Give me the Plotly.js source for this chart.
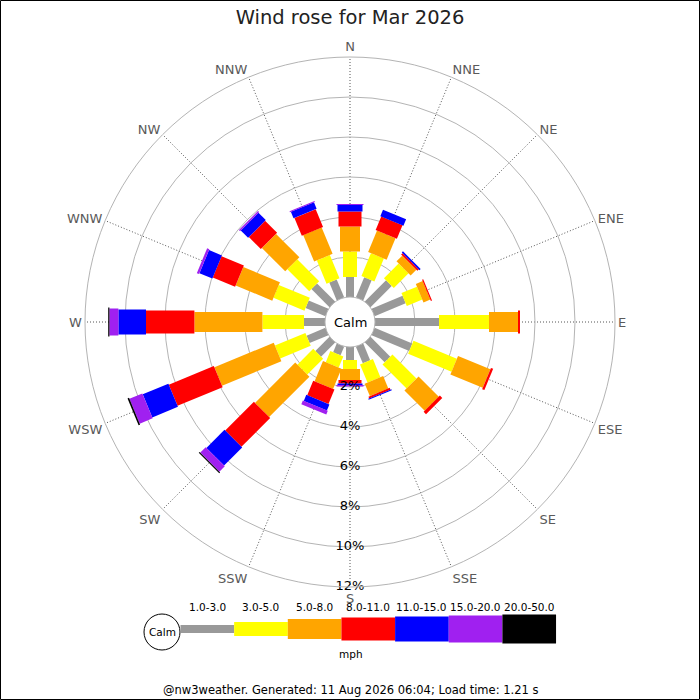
<!DOCTYPE html>
<html><head><meta charset="utf-8">
<script src="https://cdn.plot.ly/plotly-3.0.1.min.js"></script>
<style>html,body{margin:0;padding:0;background:#fff}#chart{width:700px;height:700px}</style>
</head><body><div id="chart"></div>
<script>
// ---- data ----
const dirs = ['N','NNE','NE','ENE','E','ESE','SE','SSE','S','SSW','SW','WSW','W','WNW','NW','NNW'];
const angles = [0,22.5,45,67.5,90,112.5,135,157.5,180,202.5,225,247.5,270,292.5,315,337.5];
const binLabels = ['1.0-3.0','3.0-5.0','5.0-8.0','8.0-11.0','11.0-15.0','15.0-20.0','20.0-50.0'];
// percent of time, per direction (same order as dirs)
const s1_3   = [1.00,1.09,1.50,1.68,3.20,2.04,1.40,0.90,0.65,0.47,1.00,1.02,1.05,1.07,1.28,0.97];
const s3_5   = [1.27,1.24,1.04,0.84,2.50,2.35,1.70,0.98,0.45,0.60,1.12,1.65,2.08,1.68,1.55,1.26];
const s5_8   = [1.25,1.16,0.40,0.37,1.45,1.75,1.43,0.67,0.55,1.10,2.85,3.21,3.40,1.98,1.65,1.43];
const s8_11  = [0.75,0.73,0.10,0.06,0.10,0.12,0.17,0.10,0.17,0.78,2.03,2.44,2.42,1.21,0.85,0.96];
const s11_15 = [0.33,0.35,0.08,0.00,0.00,0.00,0.00,0.05,0.08,0.33,1.28,1.39,1.38,0.70,0.52,0.35];
const s15_20 = [0.05,0.00,0.00,0.00,0.00,0.00,0.00,0.00,0.08,0.20,0.38,0.70,0.45,0.12,0.08,0.05];
const s20_50 = [0.00,0.00,0.00,0.00,0.00,0.00,0.00,0.00,0.00,0.00,0.06,0.08,0.06,0.00,0.00,0.00];
const radialTicks = [2,4,6,8,10,12];
const radialTickText = ['2%','4%','6%','8%','10%','12%'];
const title = 'Wind rose for Mar 2026';
const footer = '@nw3weather. Generated: 11 Aug 2026 06:04; Load time: 1.21 s';
const unitLabel = 'mph';
const calmLabel = 'Calm';

// ---- styles ----
const series = [s1_3,s3_5,s5_8,s8_11,s11_15,s15_20,s20_50];
const colors = ['#999999','#ffff00','#ffa500','#ff0000','#0000ff','#a020f0','#000000'];
const widths = [8,14,20,23,25,27,29];
const FONT = 'DejaVu Sans';

const traces = [];
const cum = dirs.map(()=>0);
series.forEach((vals,k)=>{
  const r=[], th=[];
  vals.forEach((v,i)=>{
    if(v>0){ r.push(cum[i], cum[i]+v, null); th.push(angles[i], angles[i], null); }
    cum[i]+=v;
  });
  traces.push({type:'scatterpolar', mode:'lines', r:r, theta:th, connectgaps:false,
    line:{color:colors[k], width:widths[k]}, hoverinfo:'skip', name:binLabels[k]});
});
traces.push({type:'scatterpolar', mode:'text', r:radialTicks, theta:radialTicks.map(()=>180),
  text:radialTickText, textposition:'middle center', cliponaxis:false,
  textfont:{family:FONT,size:13,color:'#000'}, hoverinfo:'skip'});

// pixel -> paper helpers
const L=85, T=57, PW=530, PH=530;
const px = x => (x-L)/PW;
const py = y => (T+PH-y)/PH;

const shapes = [];
const annotations = [];
function note(x,y,text,size){
  annotations.push({xref:'paper', yref:'paper', x:x, y:y, xanchor:'center', yanchor:'middle',
    text:text, showarrow:false, font:{family:FONT,size:size,color:'#000'}});
}
// frame
shapes.push({type:'rect', xref:'paper', yref:'paper', x0:px(0.5), x1:px(699.5), y0:py(699.5), y1:py(0.5), line:{color:'#000',width:1}});
// legend
const lx0 = 180.5, seg = 53.65, lyc = 629;
shapes.push({type:'circle', xref:'paper', yref:'paper', x0:px(144), x1:px(180), y0:py(650), y1:py(614), line:{color:'#000',width:1}, fillcolor:'#fff'});
note(px(162), py(632), calmLabel, 10.5);
colors.forEach((c,k)=>{
  const x0 = lx0 + k*seg;
  shapes.push({type:'rect', xref:'paper', yref:'paper', x0:px(x0), x1:px(x0+seg), y0:py(lyc+widths[k]/2), y1:py(lyc-widths[k]/2), line:{width:0}, fillcolor:c});
  note(px(x0+seg/2), py(607), binLabels[k], 10.5);
});
note(px(351), py(654), unitLabel, 10.5);
note(0.5, py(690), footer, 11.5);
note(0.5, 0.5, calmLabel, 13);

const layout = {
  width:700, height:700,
  margin:{l:L, r:700-L-PW, t:T, b:700-T-PH, pad:0},
  paper_bgcolor:'#fff',
  showlegend:false,
  font:{family:FONT},
  title:{text:title, x:0.5, xref:'container', xanchor:'center', y:1-17/700, yref:'container', yanchor:'middle', font:{family:FONT,size:19.5,color:'#222'}},
  polar:{
    domain:{x:[0,1], y:[0,1]},
    hole:25/265,
    bgcolor:'#fff',
    radialaxis:{range:[0,12], tickmode:'array', tickvals:radialTicks, showticklabels:false, ticks:'', showline:false, gridcolor:'#b4b4b4', gridwidth:1},
    angularaxis:{rotation:90, direction:'clockwise', thetaunit:'degrees', tickmode:'array', tickvals:angles, ticktext:dirs,
      ticks:'', showline:true, linecolor:'#b4b4b4', linewidth:1, gridcolor:'#555', griddash:'1px,2px', gridwidth:1,
      tickfont:{family:FONT,size:13,color:'#5a5a5a'}}
  },
  shapes:shapes,
  annotations:annotations
};
Plotly.newPlot('chart', traces, layout, {displayModeBar:false, staticPlot:true});
</script></body></html>
